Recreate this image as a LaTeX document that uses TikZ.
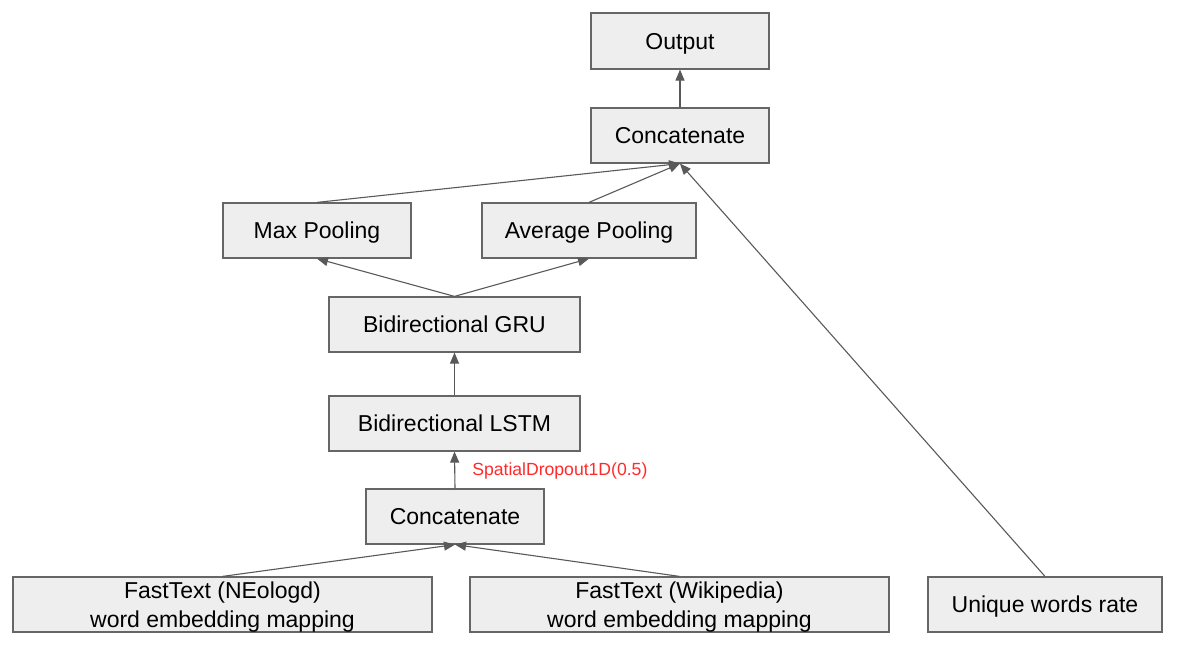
\documentclass[tikz,border=0pt]{standalone}
\usepackage{fontspec}
\setmainfont{Liberation Sans}
\usetikzlibrary{arrows.meta}
\definecolor{boxfill}{HTML}{EEEEEE}
\definecolor{boxline}{HTML}{666666}
\definecolor{arrowc}{HTML}{595959}
\definecolor{redtxt}{HTML}{FF2A2A}
\begin{document}
\begin{tikzpicture}[x=1pt,y=-1pt,
  layer/.style={draw=boxline,fill=boxfill,line width=1.2pt,inner sep=0pt,
    font=\fontsize{23}{28}\selectfont,align=center,text depth=0pt},
  conn/.style={draw=arrowc,line width=1.1pt,-{Triangle[length=11pt,width=9pt]}}]
\useasboundingbox (0,0) rectangle (1179,652);
\node[layer,minimum width=178pt,minimum height=56pt] (out) at (680,41) {Output};
\node[layer,minimum width=178pt,minimum height=55pt] (ct) at (680,135.5) {Concatenate};
\node[layer,minimum width=188pt,minimum height=55pt] (mp) at (317,230.5) {Max Pooling};
\node[layer,minimum width=214pt,minimum height=55pt] (ap) at (589,230.5) {Average Pooling};
\node[layer,minimum width=251pt,minimum height=55pt] (gru) at (454.5,324.5) {Bidirectional GRU};
\node[layer,minimum width=251pt,minimum height=55pt] (lstm) at (454.5,423.5) {Bidirectional LSTM};
\node[layer,minimum width=178pt,minimum height=55pt] (cb) at (455,516.5) {Concatenate};
\node[layer,minimum width=419pt,minimum height=55pt] (ne) at (222.5,604.5) {FastText (NEologd)\\[1pt]word embedding mapping};
\node[layer,minimum width=419pt,minimum height=55pt] (wk) at (679.5,604.5) {FastText (Wikipedia)\\[1pt]word embedding mapping};
\node[layer,minimum width=234pt,minimum height=55pt] (uw) at (1045,604.5) {Unique words rate};
\draw[conn] (ct.north) -- (out.south);
\draw[conn] (mp.north) -- (ct.south);
\draw[conn] (ap.north) -- (ct.south);
\draw[conn] (uw.north) -- (ct.south);
\draw[conn] (gru.north) -- (mp.south);
\draw[conn] (gru.north) -- (ap.south);
\draw[conn] (lstm.north) -- (gru.south);
\draw[conn] (cb.north) -- node[anchor=west,xshift=17pt,yshift=-1pt,inner sep=0pt,text=redtxt,font=\fontsize{17.6}{21}\selectfont] (sd) {SpatialDropout1D(0.5)} (lstm.south);
\draw[conn] (ne.north) -- (cb.south);
\draw[conn] (wk.north) -- (cb.south);
\end{tikzpicture}
\end{document}
